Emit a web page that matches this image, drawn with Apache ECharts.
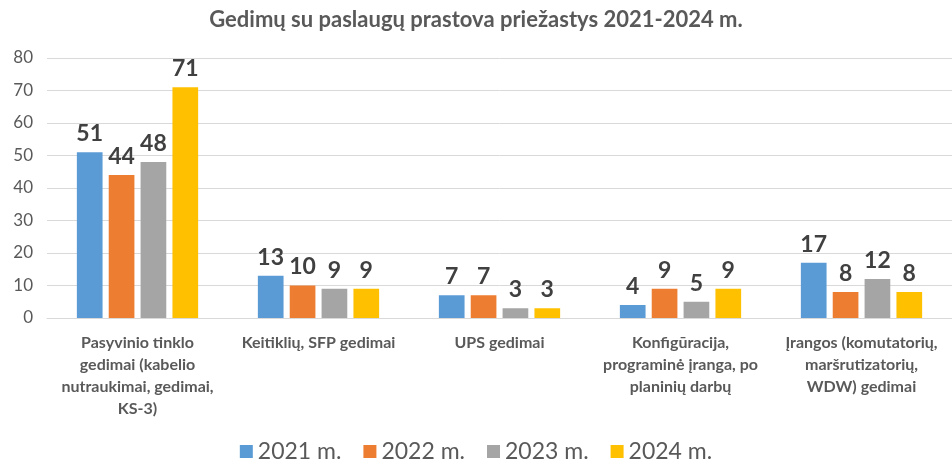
<!DOCTYPE html>
<html>
<head>
<meta charset="utf-8">
<script src="https://cdn.jsdelivr.net/npm/echarts@6/dist/echarts.min.js"></script>
<style>
  body { margin: 0; background: #fff; }
  #chart { width: 952px; height: 470px; }
</style>
</head>
<body>
<div id="chart"></div>
<script>
  const kategorijos = [
    'Pasyvinio tinklo\ngedimai (kabelio\nnutraukimai, gedimai,\nKS-3)',
    'Keitiklių, SFP gedimai',
    'UPS gedimai',
    'Konfigūracija,\nprograminė įranga, po\nplaninių darbų',
    'Įrangos (komutatorių,\nmaršrutizatorių,\nWDW) gedimai'
  ];
  const metai = ['2021 m.', '2022 m.', '2023 m.', '2024 m.'];
  const r2021 = [51, 13, 7, 4, 17];
  const r2022 = [44, 10, 7, 9, 8];
  const r2023 = [48, 9, 3, 5, 12];
  const r2024 = [71, 9, 3, 9, 8];
  const spalvos = ['#5B9BD5', '#ED7D31', '#A5A5A5', '#FFC000'];

  const font = 'Lato, "Open Sans", sans-serif';
  const chart = echarts.init(document.getElementById('chart'));

  const reiksmes = [r2021, r2022, r2023, r2024];
  const serijos = metai.map((m, i) => ({
    name: m,
    type: 'bar',
    data: reiksmes[i],
    itemStyle: { color: spalvos[i] },
    barGap: '24%',
    barCategoryGap: '33%',
    label: {
      show: true,
      position: 'top',
      distance: 7,
      fontSize: 23,
      fontWeight: 'bold',
      color: '#404040',
      fontFamily: font
    }
  }));

  chart.setOption({
    animation: false,
    textStyle: { fontFamily: font },
    title: {
      text: 'Gedimų su paslaugų prastova priežastys 2021-2024 m.',
      left: 'center',
      top: 4,
      textStyle: { fontSize: 22, fontWeight: 'bold', color: '#595959', fontFamily: font }
    },
    legend: {
      bottom: 2,
      left: 'center',
      itemWidth: 13,
      itemHeight: 13,
      itemGap: 22,
      icon: 'rect',
      textStyle: { fontSize: 23, color: '#595959', fontFamily: font }
    },
    grid: { left: 47, right: 0, top: 58, bottom: 152 },
    xAxis: {
      type: 'category',
      data: kategorijos,
      axisLine: { lineStyle: { color: '#d9d9d9' } },
      axisTick: { show: false },
      axisLabel: {
        interval: 0,
        margin: 14,
        fontSize: 16,
        fontWeight: 'bold',
        color: '#595959',
        lineHeight: 22,
        fontFamily: font
      }
    },
    yAxis: {
      type: 'value',
      min: 0,
      max: 80,
      interval: 10,
      axisLine: { show: false },
      axisTick: { show: false },
      axisLabel: { fontSize: 17, color: '#595959', margin: 14, fontFamily: font },
      splitLine: { lineStyle: { color: '#d9d9d9' } }
    },
    series: serijos
  });
</script>
</body>
</html>
